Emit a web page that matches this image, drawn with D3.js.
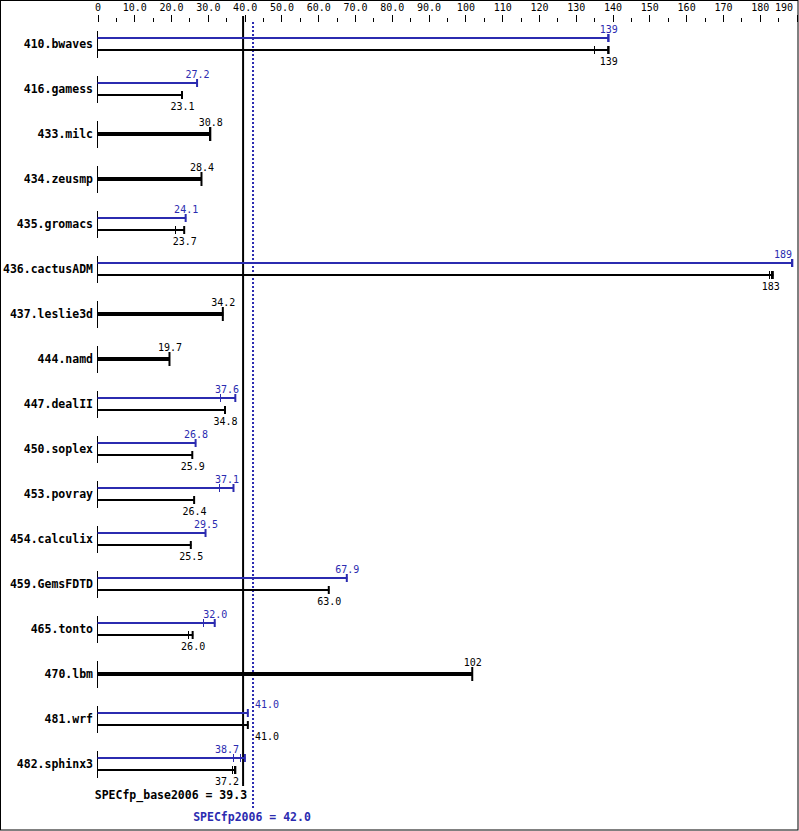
<!DOCTYPE html>
<html><head><meta charset="utf-8">
<script src="https://cdn.jsdelivr.net/npm/d3@7"></script>
<style>body{margin:0;background:#fff}svg{display:block}</style>
</head><body>
<script>
const categories = ["410.bwaves","416.gamess","433.milc","434.zeusmp","435.gromacs","436.cactusADM","437.leslie3d","444.namd","447.dealII","450.soplex","453.povray","454.calculix","459.GemsFDTD","465.tonto","470.lbm","481.wrf","482.sphinx3"];
const baseValues = [139, 23.1, 30.8, 28.4, 23.7, 183, 34.2, 19.7, 34.8, 25.9, 26.4, 25.5, 63.0, 26.0, 102, 41.0, 37.2];
const peakValues = [139, 27.2, null, null, 24.1, 189, null, null, 37.6, 26.8, 37.1, 29.5, 67.9, 32.0, null, 41.0, 38.7];
const baseRuns = [[135,139,139],[23.1],[30.2,30.8],[28.0,28.4],[21.1,23.7],[182.6,183,183.7],[34.2],[19.7],[34.8],[25.9],[26.4],[25.5],[63.0],[24.6,26.0],[102],[41.0],[36.6,37.2,37.6]];
const peakRuns = [[139,139],[27.2],null,null,[24.1],[188.4,189],null,null,[33.4,37.6],[26.8],[33.1,37.1],[29.5],[67.9],[28.6,32.0],null,[41.0],[36.9,38.7,40.2]];
const majorTicks = d3.range(0, 191, 10);
const minorTicks = d3.range(5, 190, 10);
const baseScore = 39.3, peakScore = 42.0;
const baseLabel = "SPECfp_base2006 = 39.3", peakLabel = "SPECfp2006 = 42.0";

const W = 799, H = 831, BLUE = "#2b2bb0";
const svg = d3.select("body").append("svg").attr("width", W).attr("height", H)
  .style("font-family", "'DejaVu Sans Mono', monospace");
svg.append("rect").attr("x",0.5).attr("y",0.5).attr("width",W-1.5).attr("height",H-1.5)
  .attr("fill","#fff").attr("stroke","#000");

const x = d3.scaleLinear().domain([0,190]).range([97.5, 796.5]);
const y = d3.scaleBand().domain(categories).range([21.2, 21.2 + 45*categories.length]);
const cy = c => y(c) + y.bandwidth()/2;

const fmt = v => v === 0 ? "0" : (v >= 100 ? d3.format(".0f")(v) : d3.format(".1f")(v));

// axes
const axMaj = svg.append("g").attr("transform","translate(0,22)")
  .call(d3.axisTop(x).tickValues(majorTicks).tickSize(7).tickPadding(4).tickFormat(fmt));
const axMin = svg.append("g").attr("transform","translate(0,22)")
  .call(d3.axisTop(x).tickValues(minorTicks).tickSize(4).tickFormat(""));
[axMaj, axMin].forEach(a => { a.select(".domain").remove(); a.selectAll("line").attr("stroke","#000").attr("shape-rendering","crispEdges"); });
axMaj.selectAll("text").attr("fill","#000").style("font-size","10px").style("font-family","'DejaVu Sans Mono', monospace");
axMaj.selectAll(".tick text").each(function(){
  const b = this.getBBox();
  const tx = +this.parentNode.getAttribute("transform").match(/translate\(([\d.]+)/)[1];
  if (tx + b.x + b.width > 793) d3.select(this).attr("x", 793 - tx - b.width/2);
});

const bx = x(baseScore), px = x(peakScore);

// reference lines
svg.append("line").attr("x1",bx+1).attr("x2",bx+1).attr("y1",16).attr("y2",786)
  .attr("stroke","#000").attr("stroke-width",2);
svg.append("line").attr("x1",px+1).attr("x2",px+1).attr("y1",22).attr("y2",808)
  .attr("stroke",BLUE).attr("stroke-width",2).attr("stroke-dasharray","2,2");

const g = svg.append("g");

function placeLabel(t, v, ly, color){
  const txt = g.append("text").attr("y", ly).attr("fill", color).style("font-size","10px").text(fmt(v));
  const w = txt.node().getComputedTextLength();
  let cx = x(v);
  let left = cx - w/2;
  if (left + w > bx - 3 && left < px + 3) {
    if (cx < bx) left = bx - 3 - w; else left = px + 3;
  }
  if (left + w > 792) left = 792 - w;
  txt.attr("x", left);
}

function drawSeries(runs, yy, color, width, capH){
  const mx = d3.max(runs);
  g.append("line").attr("x1", x(0)).attr("x2", x(mx)).attr("y1", yy).attr("y2", yy)
    .attr("stroke", color).attr("stroke-width", width);
  runs.forEach(r => {
    const isEnd = r === mx;
    const xx = isEnd ? x(r) - 0.5 : Math.round(x(r)) + 0.5;
    g.append("line").attr("x1", xx).attr("x2", xx).attr("y1", yy - capH).attr("y2", yy + capH)
      .attr("stroke", color).attr("stroke-width", isEnd ? 2 : 1);
  });
}

categories.forEach((c, i) => {
  const m = Math.round(cy(c));
  // left segment
  g.append("line").attr("x1",97.5).attr("x2",97.5).attr("y1",m-13).attr("y2",m+14).attr("stroke","#000");
  g.append("text").attr("x",93).attr("y",m+4).attr("text-anchor","end")
    .style("font-size","11.5px").style("font-weight","bold").text(c);
  if (peakValues[i] === null) {
    drawSeries(baseRuns[i], m, "#000", 4, 7);
    placeLabel(null, baseValues[i], m - 8, "#000");
  } else {
    drawSeries(peakRuns[i], m - 6, BLUE, 2, 4);
    drawSeries(baseRuns[i], m + 6, "#000", 2, 4);
    placeLabel(null, peakValues[i], m - 11, BLUE);
    placeLabel(null, baseValues[i], m + 21, "#000");
  }
});

svg.append("text").attr("x", bx + 5).attr("y", 799).attr("text-anchor","end")
  .style("font-size","11.5px").style("font-weight","bold").attr("fill","#000").text(baseLabel);
svg.append("text").attr("x", px).attr("y", 821).attr("text-anchor","middle")
  .style("font-size","11.5px").style("font-weight","bold").attr("fill",BLUE).text(peakLabel);
</script>
</body></html>
